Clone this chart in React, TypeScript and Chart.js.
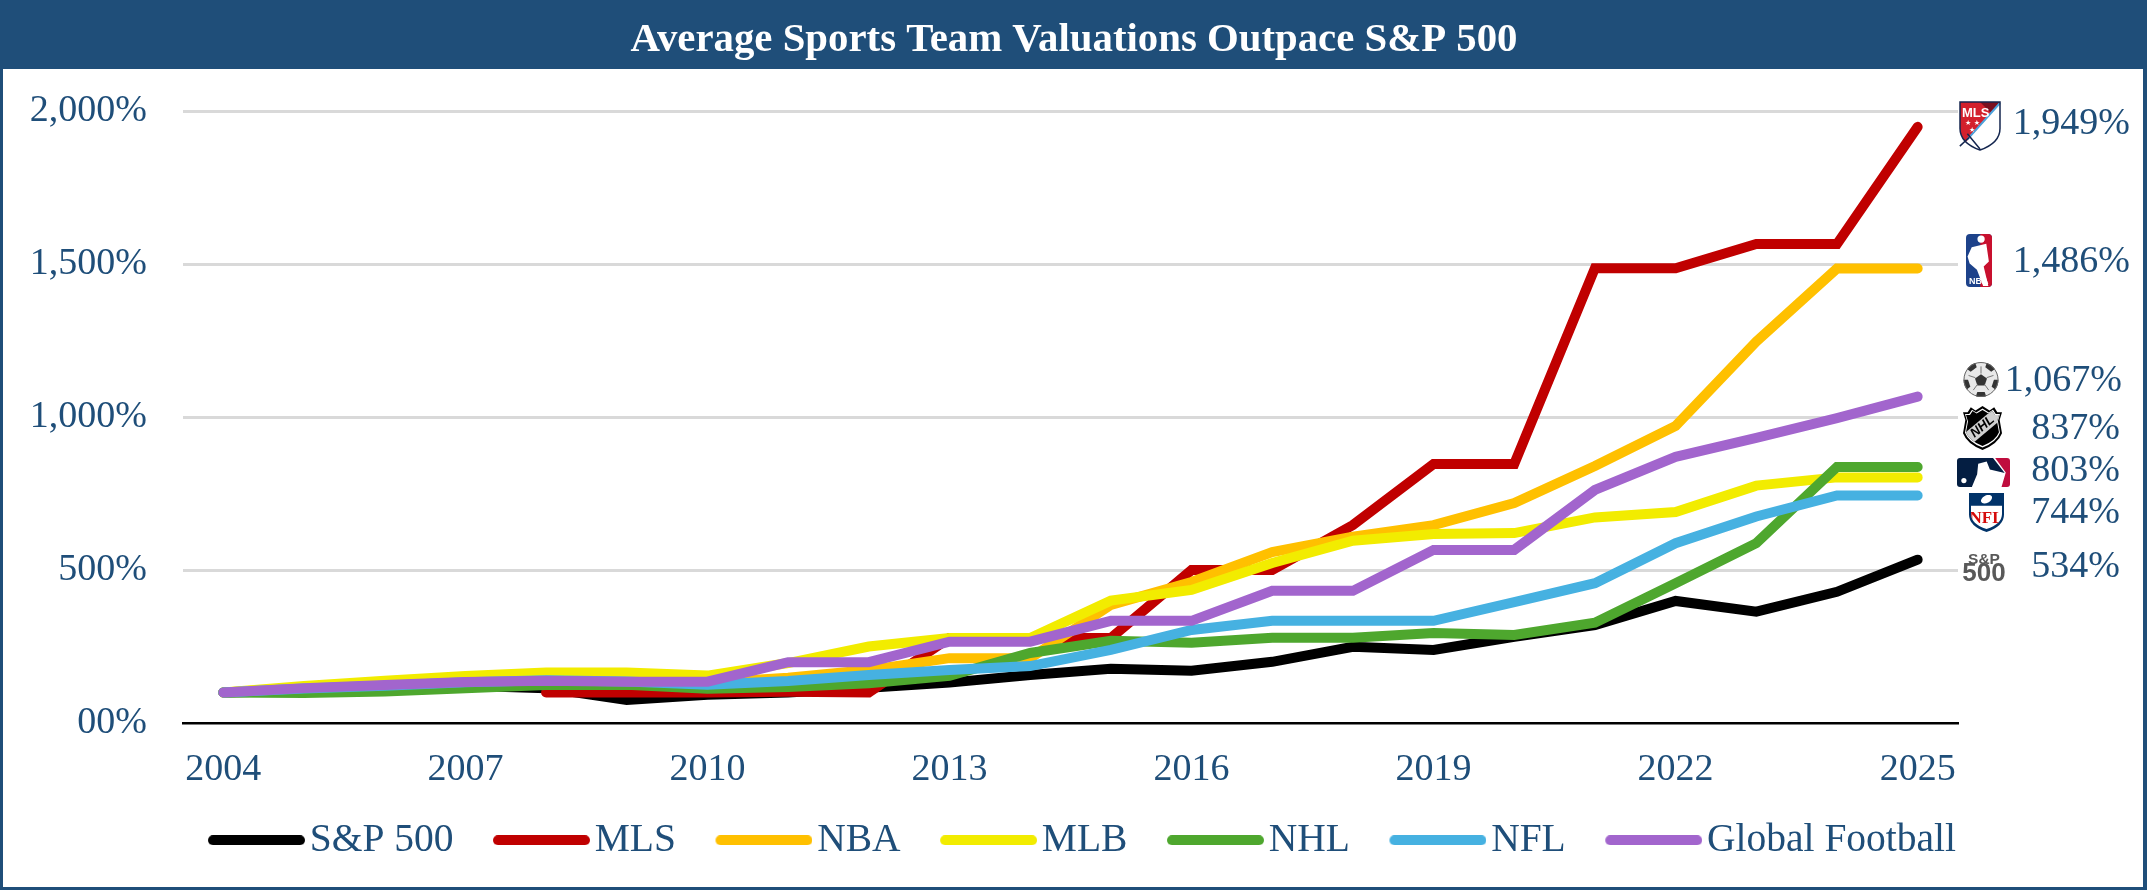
import React, { useEffect, useRef } from "react";
import { Chart, registerables } from "chart.js";

Chart.register(...registerables);

const years = ["2004","2005","2006","2007","2008","2009","2010","2011","2012","2013","2014","2015","2016","2017","2018","2019","2020","2021","2022","2023","2024","2025"];
const sp500 = [100,105,112,122,114,75,92,100,115,132,157,177,171,200,249,239,282,320,399,364,429,534];
const mls = [null,null,null,null,100,100,100,102,100,278,278,278,500,500,647,847,847,1487,1487,1566,1566,1949];
const nba = [100,116,125,135,140,138,132,148,173,212,212,386,461,559,609,647,719,840,971,1247,1486,1486];
const mlb = [100,121,138,154,165,165,155,196,250,278,278,400,435,523,596,618,621,672,690,776,803,803];
const nhl = [100,98,103,114,124,125,112,118,130,154,229,269,262,279,279,294,288,328,457,588,837,837];
const nfl = [100,113,122,133,140,136,125,137,157,173,186,239,304,334,334,334,395,457,588,675,744,744];
const globalFootball = [100,114,124,134,138,135,135,199,199,266,266,334,334,432,432,566,566,762,870,932,997,1067];
const seriesNames = ["S&P 500","MLS","NBA","MLB","NHL","NFL","Global Football"];
const seriesColors = ["#000000","#C00000","#FFC000","#F2EC00","#4EA72E","#46B1E1","#A265CD"];
const seriesValues = [sp500,mls,nba,mlb,nhl,nfl,globalFootball];
const endLabels = ["1,949%","1,486%","1,067%","837%","803%","744%","534%"];
const titleText = "Average Sports Team Valuations Outpace S&P 500";

const NAVY = "#1F4E79";
const SERIF = "'Liberation Serif', serif";

type Ctx = CanvasRenderingContext2D;

function legendMarker(color: string) {
  const c = document.createElement("canvas");
  c.width = 112;
  c.height = 10;
  const g = c.getContext("2d")!;
  g.fillStyle = color;
  g.beginPath();
  g.roundRect(15, 0, 97, 10, 5);
  g.fill();
  return c;
}

function shieldPath(g: Ctx, x: number, y: number, w: number, h: number) {
  g.beginPath();
  g.moveTo(x, y);
  g.lineTo(x + w, y);
  g.lineTo(x + w, y + h * 0.55);
  g.quadraticCurveTo(x + w, y + h * 0.85, x + w / 2, y + h);
  g.quadraticCurveTo(x, y + h * 0.85, x, y + h * 0.55);
  g.closePath();
}

function crestPath(g: Ctx, x: number, y: number, w: number, h: number) {
  const cx = x + w / 2;
  g.beginPath();
  g.moveTo(cx, y);
  g.lineTo(x + w * 0.68, y + h * 0.1);
  g.lineTo(x + w * 0.8, y + h * 0.03);
  g.lineTo(x + w * 0.88, y + h * 0.14);
  g.lineTo(x + w, y + h * 0.14);
  g.lineTo(x + w * 0.94, y + h * 0.32);
  g.lineTo(x + w, y + h * 0.62);
  g.quadraticCurveTo(x + w * 0.9, y + h * 0.86, cx, y + h);
  g.quadraticCurveTo(x + w * 0.1, y + h * 0.86, x, y + h * 0.62);
  g.lineTo(x + w * 0.06, y + h * 0.32);
  g.lineTo(x, y + h * 0.14);
  g.lineTo(x + w * 0.12, y + h * 0.14);
  g.lineTo(x + w * 0.2, y + h * 0.03);
  g.lineTo(x + w * 0.32, y + h * 0.1);
  g.closePath();
}

function logoMLS(g: Ctx, x: number, y: number, w: number, h: number) {
  g.save();
  shieldPath(g, x + 1, y, w - 2, h);
  g.fillStyle = "#FFFFFF";
  g.fill();
  g.save();
  g.clip();
  g.fillStyle = "#D3202C";
  g.beginPath();
  g.moveTo(x, y);
  g.lineTo(x + w, y);
  g.lineTo(x + w * 0.12, y + h * 0.88);
  g.lineTo(x, y + h);
  g.closePath();
  g.fill();
  g.fillStyle = "#7A1020";
  g.beginPath();
  g.moveTo(x + w * 0.5, y);
  g.lineTo(x + w, y);
  g.lineTo(x + w * 0.75, y + h * 0.22);
  g.closePath();
  g.fill();
  g.restore();
  g.strokeStyle = "#4BA3DD";
  g.lineWidth = 2;
  g.beginPath();
  g.moveTo(x + w - 1, y + 1);
  g.lineTo(x + w * 0.2, y + h * 0.78);
  g.stroke();
  g.strokeStyle = "#14264F";
  g.lineWidth = 1.5;
  shieldPath(g, x + 1, y, w - 2, h);
  g.stroke();
  g.beginPath();
  g.moveTo(x + w * 0.02, y + h * 0.92);
  g.lineTo(x + w * 0.24, y + h * 0.74);
  g.moveTo(x + w * 0.2, y + h * 0.66);
  g.lineTo(x + w * 0.5, y + h * 0.98);
  g.stroke();
  g.fillStyle = "#FFFFFF";
  g.font = "bold 13px 'Liberation Sans', sans-serif";
  g.textAlign = "left";
  g.textBaseline = "alphabetic";
  g.fillText("MLS", x + 3, y + 15);
  g.font = "bold 7px 'DejaVu Sans', sans-serif";
  g.fillText("★ ★", x + 6, y + 23);
  g.fillText("★", x + 10, y + 30);
  g.restore();
}

function playerShape(g: Ctx, x: number, y: number, w: number, h: number) {
  g.beginPath();
  g.arc(x + w * 0.58, y + h * 0.08, w * 0.14, 0, Math.PI * 2);
  g.fill();
  g.beginPath();
  g.moveTo(x + w * 0.22, y + h * 0.24);
  g.lineTo(x + w * 0.78, y + h * 0.17);
  g.lineTo(x + w * 0.88, y + h * 0.52);
  g.lineTo(x + w * 0.68, y + h * 0.62);
  g.lineTo(x + w * 0.86, y + h);
  g.lineTo(x + w * 0.66, y + h);
  g.lineTo(x + w * 0.42, y + h * 0.68);
  g.lineTo(x + w * 0.14, y + h * 0.56);
  g.lineTo(x + w * 0.06, y + h * 0.42);
  g.closePath();
  g.fill();
}

function logoNBA(g: Ctx, x: number, y: number, w: number, h: number) {
  g.save();
  g.beginPath();
  g.roundRect(x, y, w, h, 4);
  g.clip();
  g.fillStyle = "#1D428A";
  g.fillRect(x, y, w, h);
  g.fillStyle = "#C8102E";
  g.fillRect(x + w * 0.55, y, w * 0.45, h);
  g.fillStyle = "#FFFFFF";
  playerShape(g, x, y + 1, w, h - 2);
  g.font = "bold 9px 'Liberation Sans Narrow','Liberation Sans', sans-serif";
  g.textAlign = "left";
  g.textBaseline = "alphabetic";
  g.fillText("NBA", x + 3, y + h - 3);
  g.restore();
}

function logoBall(g: Ctx, x: number, y: number, w: number, h: number) {
  const cx = x + w / 2;
  const cy = y + h / 2;
  const r = Math.min(w, h) / 2;
  g.save();
  g.beginPath();
  g.arc(cx, cy, r, 0, Math.PI * 2);
  g.fillStyle = "#E8E8E8";
  g.fill();
  g.clip();
  g.fillStyle = "#333333";
  const pent = (px: number, py: number, pr: number, rot: number) => {
    g.beginPath();
    for (let i = 0; i < 5; i++) {
      const a = rot + (i * 2 * Math.PI) / 5;
      const qx = px + pr * Math.cos(a);
      const qy = py + pr * Math.sin(a);
      if (i === 0) g.moveTo(qx, qy);
      else g.lineTo(qx, qy);
    }
    g.closePath();
    g.fill();
  };
  pent(cx, cy + 1, r * 0.36, -Math.PI / 2);
  for (let i = 0; i < 5; i++) {
    const a = -Math.PI / 2 + (i * 2 * Math.PI) / 5 + Math.PI / 5;
    pent(cx + r * Math.cos(a), cy + r * Math.sin(a), r * 0.36, a);
  }
  g.strokeStyle = "#777777";
  g.lineWidth = 1;
  for (let i = 0; i < 5; i++) {
    const a = -Math.PI / 2 + (i * 2 * Math.PI) / 5;
    g.beginPath();
    g.moveTo(cx + r * 0.34 * Math.cos(a), cy + r * 0.34 * Math.sin(a));
    g.lineTo(cx + r * 0.75 * Math.cos(a), cy + r * 0.75 * Math.sin(a));
    g.stroke();
  }
  g.restore();
  g.beginPath();
  g.arc(cx, cy, r - 0.5, 0, Math.PI * 2);
  g.strokeStyle = "#666666";
  g.lineWidth = 1;
  g.stroke();
}

function logoNHL(g: Ctx, x: number, y: number, w: number, h: number) {
  g.save();
  crestPath(g, x, y, w, h);
  g.fillStyle = "#000000";
  g.fill();
  crestPath(g, x + 2, y + 2.5, w - 4, h - 5);
  g.fillStyle = "#FFFFFF";
  g.fill();
  crestPath(g, x + 3, y + 4, w - 6, h - 8);
  g.fillStyle = "#000000";
  g.fill();
  g.clip();
  g.translate(x + w / 2, y + h * 0.47);
  g.rotate(-Math.PI / 4.5);
  g.fillStyle = "#D0D0D0";
  g.fillRect(-w, -6.5, w * 2, 13);
  g.fillStyle = "#000000";
  g.font = "italic bold 13px 'Liberation Sans', sans-serif";
  g.textAlign = "center";
  g.textBaseline = "middle";
  g.fillText("NHL", 0, 0);
  g.restore();
}

function logoMLB(g: Ctx, x: number, y: number, w: number, h: number) {
  g.save();
  g.beginPath();
  g.roundRect(x, y, w, h, 3);
  g.clip();
  g.fillStyle = "#FFFFFF";
  g.fillRect(x, y, w, h);
  g.fillStyle = "#041E42";
  g.beginPath();
  g.moveTo(x, y);
  g.lineTo(x + w * 0.68, y);
  g.lineTo(x + w * 0.9, y + h * 0.52);
  g.lineTo(x + w * 0.62, y + h * 0.4);
  g.lineTo(x + w * 0.56, y + h * 0.12);
  g.lineTo(x + w * 0.4, y + h * 0.2);
  g.lineTo(x + w * 0.38, y + h * 0.56);
  g.lineTo(x + w * 0.28, y + h);
  g.lineTo(x, y + h);
  g.closePath();
  g.fill();
  g.fillStyle = "#BF0D3E";
  g.beginPath();
  g.moveTo(x + w * 0.72, y);
  g.lineTo(x + w, y);
  g.lineTo(x + w, y + h);
  g.lineTo(x + w * 0.84, y + h);
  g.lineTo(x + w * 0.92, y + h * 0.5);
  g.closePath();
  g.fill();
  g.fillStyle = "#FFFFFF";
  g.beginPath();
  g.arc(x + w * 0.13, y + h * 0.78, h * 0.09, 0, Math.PI * 2);
  g.fill();
  g.restore();
}

function logoNFL(g: Ctx, x: number, y: number, w: number, h: number) {
  g.save();
  shieldPath(g, x, y + 2, w, h - 2);
  g.fillStyle = "#013369";
  g.fill();
  shieldPath(g, x + 2, y + 4, w - 4, h - 7);
  g.fillStyle = "#FFFFFF";
  g.fill();
  g.clip();
  g.fillStyle = "#013369";
  g.fillRect(x, y, w, h * 0.36);
  g.fillStyle = "#FFFFFF";
  g.beginPath();
  g.ellipse(x + w / 2, y + h * 0.2, w * 0.17, h * 0.09, -0.5, 0, Math.PI * 2);
  g.fill();
  g.fillStyle = "#D50A0A";
  g.font = "bold 17px 'Liberation Sans Narrow','Liberation Serif', serif";
  g.textAlign = "center";
  g.textBaseline = "alphabetic";
  g.fillText("NFL", x + w / 2, y + h * 0.78);
  g.restore();
}

function logoSP(g: Ctx, x: number, y: number, w: number, h: number) {
  g.save();
  g.fillStyle = "#595959";
  g.textAlign = "center";
  g.textBaseline = "alphabetic";
  g.font = "bold 15.5px 'Liberation Sans', sans-serif";
  g.fillText("S&P", x + w / 2, y + 11);
  g.font = "bold 26px 'Liberation Sans', sans-serif";
  g.fillText("500", x + w / 2, y + h);
  g.restore();
}

const logoDrawers = [logoMLS, logoNBA, logoBall, logoNHL, logoMLB, logoNFL, logoSP];
const logoBoxes = [
  [1959, 102, 42, 48],
  [1966, 234, 26, 53],
  [1963, 362, 36, 35],
  [1963, 406, 39, 44],
  [1957, 458, 53, 29],
  [1969, 491, 35, 41],
  [1962, 553, 44, 28],
];
const labelSpots = [
  [2130, 124],
  [2130, 262],
  [2122, 381],
  [2120, 429],
  [2120, 471],
  [2120, 513],
  [2120, 567],
];

const framePlugin = {
  id: "frame",
  beforeDraw(chart: any) {
    const g: Ctx = chart.ctx;
    const W = chart.width;
    const H = chart.height;
    g.save();
    g.fillStyle = "#FFFFFF";
    g.fillRect(0, 0, W, H);
    g.fillStyle = NAVY;
    g.fillRect(0, 0, W, 69);
    g.fillRect(0, 0, 3, H);
    g.fillRect(W - 4, 0, 4, H);
    g.fillRect(0, H - 3, W, 3);
    g.restore();
  },
  afterLayout(chart: any) {
    chart.legend.left += 103;
    chart.legend.right += 103;
    chart.legend.top -= 2;
    chart.legend.bottom -= 2;
    chart.titleBlock.left += 95;
    chart.titleBlock.right += 95;
  },
  afterDraw(chart: any) {
    const g: Ctx = chart.ctx;
    logoBoxes.forEach((b, i) => logoDrawers[i](g, b[0], b[1], b[2], b[3]));
    g.save();
    g.font = `38px ${SERIF}`;
    g.fillStyle = NAVY;
    g.textAlign = "right";
    g.textBaseline = "middle";
    endLabels.forEach((t, i) => g.fillText(t, labelSpots[i][0], labelSpots[i][1]));
    g.restore();
  },
};

export default function App() {
  const ref = useRef<HTMLCanvasElement>(null);
  useEffect(() => {
    const markers = seriesColors.map(legendMarker);
    const chart = new Chart(ref.current!, {
      type: "line",
      plugins: [framePlugin],
      data: {
        labels: years,
        datasets: seriesNames.map((name, i) => ({
          label: name,
          data: seriesValues[i],
          borderColor: seriesColors[i],
          backgroundColor: seriesColors[i],
          borderWidth: 10,
          borderCapStyle: "round",
          borderJoinStyle: "miter",
          pointRadius: 0,
          tension: 0,
          order: seriesNames.length - i,
        })),
      },
      options: {
        responsive: false,
        animation: false,
        devicePixelRatio: 1,
        layout: { padding: { left: 0, right: 189, top: 0, bottom: 18 } },
        plugins: {
          tooltip: { enabled: false },
          title: {
            display: true,
            text: titleText,
            color: "#FFFFFF",
            font: { family: SERIF, size: 40.8, weight: "bold" },
            padding: { top: 15.5, bottom: 46.8 },
          },
          legend: {
            display: true,
            position: "bottom",
            labels: {
              color: NAVY,
              font: { family: SERIF, size: 39.5 },
              usePointStyle: true,
              pointStyleWidth: 82,
              padding: 39.5,
              generateLabels: (c: any) =>
                Chart.defaults.plugins.legend.labels
                  .generateLabels(c)
                  .map((l: any) => ({ ...l, pointStyle: markers[l.datasetIndex] }))
                  .sort((a: any, b: any) => a.datasetIndex - b.datasetIndex),
            },
          },
        },
        scales: {
          x: {
            offset: true,
            afterFit: (s: any) => {
              s.height = 60;
            },
            grid: { display: false, drawTicks: false, offset: true },
            border: { display: true, color: "#000000", width: 2.5 },
            ticks: {
              color: NAVY,
              font: { family: SERIF, size: 38 },
              padding: 24,
              autoSkip: false,
              maxRotation: 0,
              callback: function (this: any, _v: any, i: number) {
                return i % 3 === 0 ? years[i] : "";
              },
            },
          },
          y: {
            min: 0,
            max: 2000,
            afterFit: (s: any) => {
              s.width = 183;
            },
            grid: {
              drawTicks: false,
              lineWidth: 3,
              color: (c: any) => (c.tick && c.tick.value === 0 ? "rgba(0,0,0,0)" : "#D9D9D9"),
            },
            border: { display: false },
            ticks: {
              stepSize: 500,
              color: NAVY,
              font: { family: SERIF, size: 38 },
              padding: 36,
              callback: (v: any) => (v === 0 ? "00%" : Number(v).toLocaleString("en-US") + "%"),
            },
          },
        },
      },
    } as any);
    return () => chart.destroy();
  }, []);
  return (
    <div style={{ position: "absolute", left: 0, top: 0, width: 2147, height: 890 }}>
      <canvas ref={ref} width={2147} height={890} style={{ display: "block" }} />
    </div>
  );
}
